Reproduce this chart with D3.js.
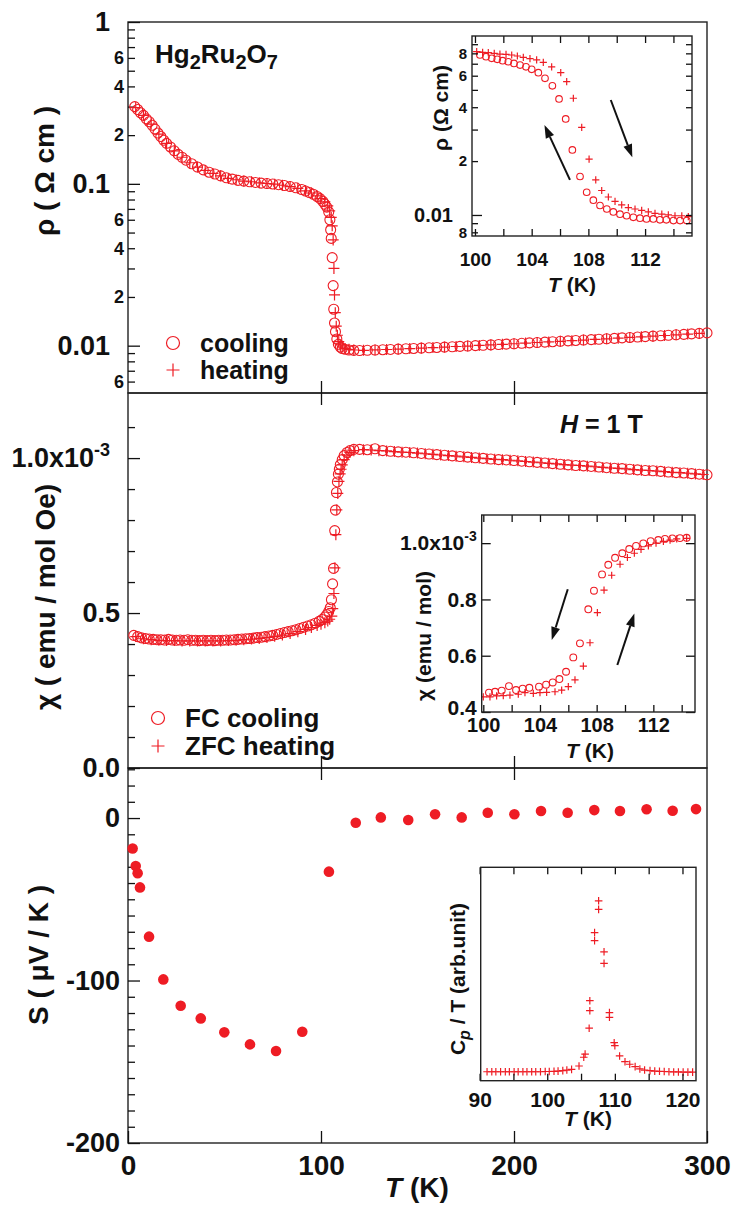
<!DOCTYPE html>
<html>
<head>
<meta charset="utf-8">
<script src="https://cdn.jsdelivr.net/npm/d3@7"></script>
<style>
  body { margin: 0; background: #fff; }
  text { font-family: "Liberation Sans", Arial, Helvetica, sans-serif; font-weight: bold; fill: #111; }
</style>
</head>
<body>
<svg id="chart" width="734" height="1207"></svg>
<script>
// ---- data ----
// top panel: resistivity (Ohm cm) vs T (K)
const rhoCoolT = [3.5, 5, 6.5, 8, 9.5, 11, 12.5, 14, 15.5, 17, 18.5, 20, 22, 24, 26, 28, 30, 33, 36, 39, 42, 45, 48, 51, 54, 57, 60, 63, 66, 69, 72, 75, 78, 81, 84, 87, 90, 92, 94, 96, 98, 99.5, 101, 102, 103, 104, 104.6, 105, 105.3, 105.8, 106.3, 106.6, 107, 107.5, 108.2, 109, 110, 111, 112.5, 114.5, 117,
  120, 124, 128, 132, 136, 140, 144, 148, 152, 156, 160, 164, 168, 172, 176, 180, 184, 188, 192, 196, 200, 204, 208, 212, 216, 220, 224, 228, 232, 236, 240, 244, 248, 252, 256, 260, 264, 268, 272, 276, 280, 284, 288, 292, 296, 300];
const rhoCool = [0.300, 0.288, 0.275, 0.265, 0.252, 0.242, 0.230, 0.218, 0.206, 0.196, 0.186, 0.178, 0.169, 0.160, 0.152, 0.146, 0.140, 0.133, 0.127, 0.122, 0.118, 0.115, 0.112, 0.109, 0.107, 0.105, 0.104, 0.103, 0.102, 0.101, 0.1005, 0.0998, 0.0988, 0.0976, 0.0962, 0.0945, 0.0922, 0.0903, 0.0884, 0.0862, 0.0835, 0.081, 0.0778, 0.0748, 0.0718, 0.067, 0.060, 0.052, 0.046, 0.035, 0.0235, 0.0168, 0.0138, 0.0122, 0.0110, 0.0102, 0.0098, 0.0096, 0.0095, 0.0094, 0.00935,
  0.00933, 0.00936, 0.00940, 0.00944, 0.00948, 0.00952, 0.00957, 0.00961, 0.00966, 0.00970, 0.00975, 0.00980, 0.00985, 0.00990, 0.00995, 0.01000, 0.01006, 0.01011, 0.01017, 0.01022, 0.01028, 0.01034, 0.01040, 0.01046, 0.01052, 0.01058, 0.01064, 0.01070, 0.01077, 0.01083, 0.01090, 0.01096, 0.01103, 0.01110, 0.01117, 0.01124, 0.01131, 0.01138, 0.01145, 0.01152, 0.01160, 0.01167, 0.01175, 0.01183, 0.01191, 0.01199];
const rhoHeatT = [4, 8, 12, 16, 20, 24, 28, 32, 36, 40, 44, 48, 52, 56, 60, 64, 68, 72, 76, 80, 84, 88, 92, 95, 98, 100, 102, 103.5, 104.5, 105.3, 105.8, 106.3, 106.7, 107, 107.4, 107.9, 108.5, 109.2, 110, 111, 112.5, 114.5, 117,
  122, 128, 134, 140, 146, 152, 158, 164, 170, 176, 182, 188, 194, 200, 206, 212, 218, 224, 230, 236, 242, 248, 254, 260, 266, 272, 278, 284, 290, 296];
const rhoHeat = [0.296, 0.265, 0.234, 0.203, 0.178, 0.160, 0.146, 0.135, 0.127, 0.121, 0.116, 0.112, 0.108, 0.106, 0.104, 0.103, 0.1015, 0.1005, 0.0995, 0.098, 0.0962, 0.0938, 0.0905, 0.0878, 0.0842, 0.081, 0.0775, 0.073, 0.068, 0.062, 0.055, 0.045, 0.030, 0.0206, 0.016, 0.0132, 0.0116, 0.0106, 0.0101, 0.0098, 0.0096, 0.0095, 0.0094,
  0.00936, 0.00941, 0.00947, 0.00953, 0.00959, 0.00966, 0.00973, 0.00980, 0.00988, 0.00995, 0.01003, 0.01011, 0.01019, 0.01028, 0.01037, 0.01046, 0.01055, 0.01064, 0.01074, 0.01083, 0.01093, 0.01103, 0.01113, 0.01124, 0.01134, 0.01145, 0.01156, 0.01167, 0.01179, 0.01191];

// inset of top panel (100-115 K)
const rhoInCoolT = [100.35, 100.78, 101.18, 101.57, 101.95, 102.35, 102.75, 103.18, 103.6, 104.0, 104.47, 104.94, 105.46, 105.93, 106.4, 106.87, 107.41, 107.88, 108.35, 108.82, 109.3, 109.76, 110.23, 110.7, 111.17, 111.64, 112.1, 112.58, 113.05, 113.5, 114.0, 114.47, 114.94];
const rhoInCool = [0.0783, 0.0766, 0.0750, 0.0741, 0.0728, 0.0718, 0.0703, 0.0688, 0.0673, 0.0651, 0.0624, 0.0580, 0.0527, 0.0445, 0.0344, 0.0231, 0.0164, 0.0134, 0.0121, 0.0113, 0.0108, 0.0104, 0.0101, 0.0099, 0.0097, 0.0096, 0.0095, 0.0095, 0.0094, 0.0094, 0.0093, 0.0093, 0.0093];
const rhoInHeatT = [100.12, 100.54, 100.94, 101.36, 101.76, 102.19, 102.59, 102.99, 103.41, 103.88, 104.35, 104.82, 105.41, 106.05, 106.47, 106.94, 107.53, 108.05, 108.52, 108.94, 109.41, 109.88, 110.35, 110.82, 111.29, 111.76, 112.23, 112.7, 113.18, 113.64, 114.11, 114.59, 115.05];
const rhoInHeat = [0.0817, 0.0811, 0.0807, 0.0800, 0.0793, 0.0790, 0.0783, 0.0773, 0.0760, 0.0747, 0.0735, 0.0713, 0.0673, 0.0624, 0.0556, 0.0449, 0.0309, 0.0205, 0.0157, 0.0137, 0.0126, 0.0119, 0.0114, 0.0110, 0.0108, 0.0106, 0.0104, 0.0102, 0.0101, 0.0100, 0.0099, 0.0099, 0.0098];

// middle panel: susceptibility (1e-3 emu / mol Oe)
const chiFcT = [3, 5, 7, 9, 11, 13, 15, 17, 19, 21, 23, 25, 27, 29, 31, 33, 35, 37, 39, 41, 43, 45, 47, 49, 51, 53, 55, 57, 59, 61, 63, 65, 67, 69, 71, 73, 75, 77, 79, 81, 83, 85, 87, 89, 91, 93, 95, 97, 99, 100.5, 102, 103, 104, 104.8, 105.4, 106, 106.5, 107.1, 107.5, 108, 108.5, 109, 109.5, 110, 111, 112, 113.5, 115, 117,
  120, 124, 128, 132, 136, 140, 144, 148, 152, 156, 160, 164, 168, 172, 176, 180, 184, 188, 192, 196, 200, 204, 208, 212, 216, 220, 224, 228, 232, 236, 240, 244, 248, 252, 256, 260, 264, 268, 272, 276, 280, 284, 288, 292, 296, 300];
const chiFc = [0.428, 0.424, 0.420, 0.418, 0.416, 0.415, 0.414, 0.414, 0.413, 0.415, 0.413, 0.412, 0.413, 0.412, 0.414, 0.412, 0.412, 0.411, 0.412, 0.411, 0.412, 0.411, 0.412, 0.412, 0.413, 0.413, 0.414, 0.415, 0.416, 0.417, 0.418, 0.419, 0.421, 0.422, 0.424, 0.426, 0.428, 0.431, 0.434, 0.437, 0.440, 0.443, 0.446, 0.450, 0.454, 0.458, 0.462, 0.467, 0.473, 0.479, 0.487, 0.495, 0.505, 0.517, 0.543, 0.594, 0.644, 0.766, 0.832, 0.889, 0.923, 0.948, 0.964, 0.979, 0.995, 1.008, 1.018, 1.024, 1.028,
  1.028, 1.027, 1.030, 1.024, 1.022, 1.020, 1.019, 1.017, 1.015, 1.013, 1.011, 1.009, 1.007, 1.005, 1.003, 1.001, 0.999, 0.997, 0.995, 0.994, 0.992, 0.990, 0.988, 0.986, 0.984, 0.982, 0.980, 0.978, 0.976, 0.975, 0.973, 0.971, 0.969, 0.967, 0.966, 0.964, 0.962, 0.960, 0.959, 0.957, 0.955, 0.953, 0.952, 0.950, 0.948, 0.946];
const chiZfcT = [4, 8, 12, 16, 20, 24, 28, 32, 36, 40, 44, 48, 52, 56, 60, 64, 68, 72, 76, 80, 84, 88, 92, 95, 98, 100, 102, 103.5, 104.5, 105.6, 106.1, 106.7, 107.2, 107.7, 108.2, 108.7, 109.3, 109.9, 110.4, 111, 112, 113.5, 115, 117,
  122, 126, 130, 134, 138, 142, 146, 150, 154, 158, 162, 166, 170, 174, 178, 182, 186, 190, 194, 198, 202, 206, 210, 214, 218, 222, 226, 230, 234, 238, 242, 246, 250, 254, 258, 262, 266, 270, 274, 278, 282, 286, 290, 294, 298];
const chiZfc = [0.424, 0.417, 0.414, 0.412, 0.411, 0.411, 0.410, 0.410, 0.410, 0.410, 0.410, 0.410, 0.411, 0.412, 0.414, 0.416, 0.418, 0.421, 0.425, 0.429, 0.434, 0.440, 0.447, 0.453, 0.460, 0.464, 0.469, 0.474, 0.480, 0.490, 0.514, 0.563, 0.646, 0.753, 0.833, 0.886, 0.925, 0.949, 0.964, 0.978, 0.995, 1.010, 1.018, 1.024,
  1.027, 1.026, 1.024, 1.023, 1.021, 1.019, 1.018, 1.016, 1.014, 1.012, 1.010, 1.008, 1.006, 1.004, 1.002, 1.000, 0.998, 0.996, 0.995, 0.993, 0.991, 0.989, 0.987, 0.985, 0.983, 0.981, 0.979, 0.977, 0.976, 0.974, 0.972, 0.970, 0.968, 0.967, 0.965, 0.963, 0.961, 0.960, 0.958, 0.956, 0.954, 0.953, 0.951, 0.949, 0.947];

// inset of middle panel (100-115 K)
const chiInFcT = [100.40, 100.83, 101.30, 101.81, 102.31, 102.78, 103.25, 103.93, 104.43, 104.90, 105.37, 105.84, 106.35, 106.82, 107.41, 107.81, 108.38, 108.82, 109.30, 109.81, 110.30, 110.78, 111.29, 111.81, 112.35, 112.82, 113.34, 113.88, 114.35];
const chiInFc = [0.469, 0.472, 0.476, 0.492, 0.478, 0.483, 0.486, 0.490, 0.497, 0.505, 0.517, 0.543, 0.594, 0.644, 0.765, 0.831, 0.889, 0.923, 0.948, 0.964, 0.979, 0.990, 0.999, 1.007, 1.011, 1.015, 1.017, 1.018, 1.019];
const chiInZfcT = [100.0, 100.47, 100.94, 101.41, 101.88, 102.47, 102.94, 103.53, 104.0, 104.47, 105.06, 105.53, 106.0, 106.47, 107.06, 107.53, 108.05, 108.52, 109.06, 109.65, 110.17, 110.66, 111.13, 111.65, 112.19, 112.71, 113.18, 113.65, 114.35];
const chiInZfc = [0.454, 0.454, 0.457, 0.458, 0.460, 0.463, 0.469, 0.466, 0.469, 0.470, 0.472, 0.478, 0.490, 0.514, 0.563, 0.646, 0.753, 0.833, 0.886, 0.925, 0.949, 0.964, 0.978, 0.990, 1.000, 1.006, 1.011, 1.015, 1.017];

// bottom panel: thermopower (uV/K)
const seebeckT = [2.4, 4.0, 5.0, 6.2, 10.9, 18.3, 27.3, 37.7, 49.9, 63.2, 76.7, 90.3, 104.1, 118, 131, 145.2, 159.1, 172.9, 186.4, 200.2, 214, 227.8, 241.6, 254.9, 268.7, 282.2, 294.3];
const seebeck = [-18.7, -29.5, -34, -42.7, -73, -99.3, -115.5, -123.3, -131.9, -139.3, -143.4, -131.5, -33, -2.9, 0.4, -1.2, 2.3, 0.4, 3.3, 2.3, 4.3, 3.3, 4.9, 4.3, 5.4, 4.5, 5.5];

// inset of bottom panel: Cp/T (arb. unit)
const cpT = [91.1, 91.8, 92.4, 93.1, 93.8, 94.4, 95.1, 95.7, 96.4, 97.0, 97.7, 98.3, 99.0, 99.7, 100.3, 101.0, 101.6, 102.3, 102.9, 103.6, 104.7, 105.4, 105.6, 106.2, 106.3, 106.3, 107.0, 107.0, 107.6, 107.6, 108.4, 108.4, 109.2, 109.2, 109.9, 110.0, 110.7, 111.5, 112.2, 113.0, 113.7, 114.4, 115.2, 115.9, 116.6, 117.3, 118.0, 118.7, 119.4, 120.1, 120.8, 121.5];
const cpVal = [4.2, 4.2, 4.2, 4.2, 4.2, 4.2, 4.2, 4.2, 4.2, 4.2, 4.2, 4.2, 4.2, 4.3, 4.3, 4.4, 4.5, 4.7, 5.0, 5.3, 6.9, 11.0, 12.5, 24.6, 32.8, 37.5, 65.6, 69.4, 80.3, 84.3, 55.0, 60.4, 29.7, 31.9, 17.8, 16.4, 11.6, 8.9, 7.7, 6.6, 5.5, 5.0, 4.7, 4.5, 4.4, 4.3, 4.2, 4.1, 4.1, 4.0, 4.0, 4.0];

// tick values
const tTicks = [0, 100, 200, 300];
const rhoMajor = [1, 0.1, 0.01];
const rhoMinor = [0.006, 0.007, 0.008, 0.009, 0.02, 0.03, 0.04, 0.05, 0.06, 0.07, 0.08, 0.09, 0.2, 0.3, 0.4, 0.5, 0.6, 0.7, 0.8, 0.9];
const chiMajor = [0, 0.5, 1.0];
const sMajor = [-200, -100, 0];
const inTTicks = [100, 102, 104, 106, 108, 110, 112, 114];
const inRhoMinor = [0.008, 0.009, 0.02, 0.03, 0.04, 0.05, 0.06, 0.07, 0.08, 0.09];
const inChiTicks = [0.4, 0.6, 0.8, 1.0];
const cpTTicks = [90, 95, 100, 105, 110, 115, 120];

// ---- drawing ----
const RED = '#ee1c24';
const svg = d3.select('#chart');

const x = d3.scaleLinear().domain([0, 300]).range([128, 707]);
const yRho = d3.scaleLog().domain([0.0051, 1]).range([393, 22]);
const yChi = d3.scaleLinear().domain([0, 1.21]).range([768, 393]);
const yS = d3.scaleLinear().domain([-200, 30.8]).range([1143, 768]);

function circles(g, xs, ys, sx, sy, r, filled) {
  g.append('g').selectAll('circle').data(xs).join('circle')
    .attr('cx', d => sx(d))
    .attr('cy', (d, i) => sy(ys[i]))
    .attr('r', r)
    .attr('fill', filled ? RED : 'none')
    .attr('stroke', filled ? 'none' : RED)
    .attr('stroke-width', 1.1);
}

function crosses(g, xs, ys, sx, sy, s) {
  g.append('g').selectAll('path').data(xs).join('path')
    .attr('d', (d, i) => {
      const cx = sx(d), cy = sy(ys[i]);
      return `M${cx - s},${cy}h${2 * s}M${cx},${cy - s}v${2 * s}`;
    })
    .attr('stroke', RED)
    .attr('stroke-width', 1.2)
    .attr('fill', 'none');
}

function styleAxis(g, size) {
  g.select('.domain').remove();
  g.selectAll('line').attr('stroke', '#111').attr('stroke-width', 1.3);
  g.attr('font-family', null).attr('font-size', size).attr('font-weight', 'bold');
  g.selectAll('text').attr('fill', '#111');
}

// panel frames
[[22, 393], [393, 768], [768, 1143]].forEach(([t, b]) => {
  svg.append('rect').attr('x', 128).attr('y', t).attr('width', 579).attr('height', b - t)
    .attr('fill', 'none').attr('stroke', '#222').attr('stroke-width', 1.4);
});

// x ticks on the panel edges
[[393, 'bottom'], [393, 'top'], [768, 'bottom'], [768, 'top'], [1143, 'bottom']].forEach(([yy, side]) => {
  const ax = (side === 'bottom' ? d3.axisBottom(x) : d3.axisTop(x))
    .tickValues(yy === 1143 ? tTicks : [100, 200]).tickSize(-12).tickPadding(12)
    .tickFormat(yy === 1143 ? d => String(d) : () => '');
  svg.append('g').attr('transform', `translate(0,${yy})`).call(ax).call(g => styleAxis(g, 28));
});

// y axes
svg.append('g').attr('transform', 'translate(128,0)')
  .call(d3.axisLeft(yRho).tickValues(rhoMajor).tickSize(-12).tickPadding(18).tickFormat(d => String(d)))
  .call(g => styleAxis(g, 27));
svg.append('g').attr('transform', 'translate(128,0)')
  .call(d3.axisLeft(yRho).tickValues(rhoMinor).tickSize(-7).tickPadding(4)
    .tickFormat(d => {
      const m = Math.round(d / Math.pow(10, Math.floor(Math.log10(d) + 1e-9)));
      return [2, 4, 6].includes(m) ? m : '';
    }))
  .call(g => styleAxis(g, 18));

svg.append('g').attr('transform', 'translate(128,0)')
  .call(d3.axisLeft(yChi).tickValues(chiMajor).tickSize(-12).tickPadding(8).tickFormat(d => d.toFixed(1)))
  .call(g => styleAxis(g, 27))
  .call(g => g.selectAll('text').filter(d => d === 1.0)
    .attr('x', -18).text('1.0x10')
    .append('tspan').attr('dy', -11).attr('font-size', 18).text('-3'));
svg.append('g').attr('transform', 'translate(128,0)')
  .call(d3.axisLeft(yChi).tickValues(d3.range(0.1, 1.15, 0.1).filter(v => Math.abs(v - 0.5) > 0.01 && Math.abs(v - 1) > 0.01))
    .tickSize(-7).tickFormat(() => ''))
  .call(g => styleAxis(g, 18));

svg.append('g').attr('transform', 'translate(128,0)')
  .call(d3.axisLeft(yS).tickValues(sMajor).tickSize(-12).tickPadding(8).tickFormat(d => String(d)))
  .call(g => styleAxis(g, 27));
svg.append('g').attr('transform', 'translate(128,0)')
  .call(d3.axisLeft(yS).tickValues(d3.range(-190, 31, 10).filter(v => v % 100 !== 0)).tickSize(-7).tickFormat(() => ''))
  .call(g => styleAxis(g, 18));

// axis titles
function yTitle(cx, cy, size, build) {
  const t = svg.append('text').attr('transform', `translate(${cx},${cy}) rotate(-90)`)
    .attr('text-anchor', 'middle').attr('font-size', size);
  build(t);
}
yTitle(54, 171, 28, t => t.text('ρ ( Ω cm )'));
yTitle(55, 597, 28, t => t.text('χ ( emu / mol Oe)'));
yTitle(48, 955, 28, t => t.text('S ( μV / K )'));

const tLabel = svg.append('text').attr('x', 417).attr('y', 1197).attr('text-anchor', 'middle').attr('font-size', 28);
tLabel.append('tspan').attr('font-style', 'italic').text('T');
tLabel.append('tspan').text(' (K)');

// main data
const gTop = svg.append('g');
circles(gTop, rhoCoolT, rhoCool, x, yRho, 5);
crosses(gTop, rhoHeatT, rhoHeat, x, yRho, 5.5);
const gMid = svg.append('g');
circles(gMid, chiFcT, chiFc, x, yChi, 5);
crosses(gMid, chiZfcT, chiZfc, x, yChi, 5.5);
const gBot = svg.append('g');
circles(gBot, seebeckT, seebeck, x, yS, 5.3, true);

// compound name
const name = svg.append('text').attr('x', 155).attr('y', 63).attr('font-size', 26);
name.append('tspan').text('Hg');
name.append('tspan').attr('dy', 6).attr('font-size', 20).text('2');
name.append('tspan').attr('dy', -6).text('Ru');
name.append('tspan').attr('dy', 6).attr('font-size', 20).text('2');
name.append('tspan').attr('dy', -6).text('O');
name.append('tspan').attr('dy', 6).attr('font-size', 20).text('7');

// field label
const hLab = svg.append('text').attr('x', 560).attr('y', 433).attr('font-size', 25);
hLab.append('tspan').attr('font-style', 'italic').text('H');
hLab.append('tspan').text(' = 1 T');

// legends
function legendRow(cx, cy, kind, label, size) {
  if (kind === 'circle') {
    svg.append('circle').attr('cx', cx).attr('cy', cy).attr('r', 6.5)
      .attr('fill', 'none').attr('stroke', RED).attr('stroke-width', 1.2);
  } else {
    svg.append('path').attr('d', `M${cx - 6.5},${cy}h13M${cx},${cy - 6.5}v13`)
      .attr('stroke', RED).attr('stroke-width', 1.2);
  }
  svg.append('text').attr('x', cx + 27).attr('y', cy + 9).attr('font-size', size).text(label);
}
legendRow(173, 343, 'circle', 'cooling', 25);
legendRow(173, 370, 'cross', 'heating', 25);
legendRow(158, 718, 'circle', 'FC cooling', 26);
legendRow(158, 746, 'cross', 'ZFC heating', 26);

// ---- insets ----
function arrow(g, x1, y1, x2, y2) {
  const ang = Math.atan2(y2 - y1, x2 - x1);
  const hl = 13, hw = 4.5;
  const bx = x2 - hl * Math.cos(ang), by = y2 - hl * Math.sin(ang);
  g.append('line').attr('x1', x1).attr('y1', y1).attr('x2', bx).attr('y2', by)
    .attr('stroke', '#111').attr('stroke-width', 2);
  g.append('path')
    .attr('d', `M${x2},${y2}L${bx - hw * Math.sin(ang)},${by + hw * Math.cos(ang)}L${bx + hw * Math.sin(ang)},${by - hw * Math.cos(ang)}Z`)
    .attr('fill', '#111');
}

function insetFrame(l, t, r, b, clipId) {
  const g = svg.append('g');
  g.append('rect').attr('x', l).attr('y', t).attr('width', r - l).attr('height', b - t).attr('fill', '#fff');
  svg.append('clipPath').attr('id', clipId).append('rect')
    .attr('x', l).attr('y', t).attr('width', r - l).attr('height', b - t);
  return g;
}

// inset 1: rho vs T
{
  const l = 472, t = 36, r = 692, b = 236;
  const xi = d3.scaleLinear().domain([99.79, 115.31]).range([l, r]);
  const yi = d3.scaleLog().domain([0.00763, 0.1]).range([b, t]);
  const g = insetFrame(l, t, r, b, 'clip1');
  const d = g.append('g').attr('clip-path', 'url(#clip1)');
  circles(d, rhoInCoolT, rhoInCool, xi, yi, 3.3);
  crosses(d, rhoInHeatT, rhoInHeat, xi, yi, 3.6);
  arrow(g, xi(106.7), yi(0.0157), xi(104.9), yi(0.0318));
  arrow(g, xi(109.58), yi(0.0439), xi(111.1), yi(0.0210));
  g.append('g').attr('transform', `translate(0,${b})`)
    .call(d3.axisBottom(xi).tickValues(inTTicks).tickSize(-7).tickPadding(17).tickFormat(v => v % 4 === 0 ? v : ''))
    .call(a => styleAxis(a, 19));
  g.append('g').attr('transform', `translate(0,${t})`)
    .call(d3.axisTop(xi).tickValues(inTTicks).tickSize(-7).tickFormat(() => ''))
    .call(a => styleAxis(a, 19));
  g.append('g').attr('transform', `translate(${l},0)`)
    .call(d3.axisLeft(yi).tickValues(inRhoMinor).tickSize(-6).tickPadding(5)
      .tickFormat(v => {
        const m = Math.round(v / Math.pow(10, Math.floor(Math.log10(v) + 1e-9)));
        return [2, 4, 6, 8].includes(m) ? m : '';
      }))
    .call(a => styleAxis(a, 15));
  g.append('g').attr('transform', `translate(${l},0)`)
    .call(d3.axisLeft(yi).tickValues([0.01]).tickSize(-10).tickPadding(19).tickFormat(() => '0.01'))
    .call(a => styleAxis(a, 20));
  g.append('g').attr('transform', `translate(${r},0)`)
    .call(d3.axisRight(yi).tickValues(inRhoMinor.concat([0.01])).tickSize(-6).tickFormat(() => ''))
    .call(a => styleAxis(a, 15));
  g.append('rect').attr('x', l).attr('y', t).attr('width', r - l).attr('height', b - t)
    .attr('fill', 'none').attr('stroke', '#222').attr('stroke-width', 1.4);
  yTitle(448, 108, 21, tt => tt.text('ρ (Ω cm)'));
  const xl = svg.append('text').attr('x', 572).attr('y', 292).attr('text-anchor', 'middle').attr('font-size', 21);
  xl.append('tspan').attr('font-style', 'italic').text('T');
  xl.append('tspan').text(' (K)');
}

// inset 2: chi vs T
{
  const l = 481.7, t = 515, r = 695, b = 712;
  const xi = d3.scaleLinear().domain([99.887, 114.94]).range([l, r]);
  const yi = d3.scaleLinear().domain([0.4, 1.1]).range([b, t]);
  const g = insetFrame(l, t, r, b, 'clip2');
  const d = g.append('g').attr('clip-path', 'url(#clip2)');
  circles(d, chiInFcT, chiInFc, xi, yi, 3.4);
  crosses(d, chiInZfcT, chiInZfc, xi, yi, 3.6);
  arrow(g, xi(105.96), yi(0.836), xi(104.83), yi(0.656));
  arrow(g, xi(109.46), yi(0.567), xi(110.66), yi(0.750));
  g.append('g').attr('transform', `translate(0,${b})`)
    .call(d3.axisBottom(xi).tickValues(inTTicks).tickSize(-7).tickPadding(6).tickFormat(v => v % 4 === 0 ? v : ''))
    .call(a => styleAxis(a, 20));
  g.append('g').attr('transform', `translate(0,${t})`)
    .call(d3.axisTop(xi).tickValues(inTTicks).tickSize(-7).tickFormat(() => ''))
    .call(a => styleAxis(a, 20));
  g.append('g').attr('transform', `translate(${l},0)`)
    .call(d3.axisLeft(yi).tickValues(inChiTicks).tickSize(-9).tickPadding(5).tickFormat(v => v.toFixed(1)))
    .call(a => styleAxis(a, 21))
    .call(a => a.selectAll('text').filter(v => v === 0.4).attr('dy', '0.1em'))
    .call(a => a.selectAll('text').filter(v => v === 1.0).text('1.0x10')
      .append('tspan').attr('dy', -9).attr('font-size', 14).text('-3'));
  g.append('g').attr('transform', `translate(${r},0)`)
    .call(d3.axisRight(yi).tickValues(inChiTicks).tickSize(-9).tickFormat(() => ''))
    .call(a => styleAxis(a, 20));
  g.append('rect').attr('x', l).attr('y', t).attr('width', r - l).attr('height', b - t)
    .attr('fill', 'none').attr('stroke', '#222').attr('stroke-width', 1.4);
  yTitle(431, 636, 21, tt => tt.text('χ (emu / mol)'));
  const xl = svg.append('text').attr('x', 590).attr('y', 758).attr('text-anchor', 'middle').attr('font-size', 21);
  xl.append('tspan').attr('font-style', 'italic').text('T');
  xl.append('tspan').text(' (K)');
}

// inset 3: Cp/T vs T
{
  const l = 480.7, t = 867.3, r = 696, b = 1080.7;
  const xi = d3.scaleLinear().domain([90.16, 122]).range([l, r]);
  const yi = d3.scaleLinear().domain([0, 100]).range([b, t]);
  const g = insetFrame(l, t, r, b, 'clip3');
  const d = g.append('g').attr('clip-path', 'url(#clip3)');
  crosses(d, cpT, cpVal, xi, yi, 3.8);
  g.append('g').attr('transform', `translate(0,${b})`)
    .call(d3.axisBottom(xi).tickValues(cpTTicks).tickSize(-7).tickPadding(11).tickFormat(v => v % 10 === 0 ? v : ''))
    .call(a => styleAxis(a, 21));
  g.append('g').attr('transform', `translate(0,${t})`)
    .call(d3.axisTop(xi).tickValues(cpTTicks).tickSize(-7).tickFormat(() => ''))
    .call(a => styleAxis(a, 21));
  g.append('rect').attr('x', l).attr('y', t).attr('width', r - l).attr('height', b - t)
    .attr('fill', 'none').attr('stroke', '#222').attr('stroke-width', 1.4);
  yTitle(465, 979, 21, tt => {
    tt.append('tspan').text('C');
    tt.append('tspan').attr('font-style', 'italic').attr('font-size', 16).attr('dy', 5).text('p');
    tt.append('tspan').attr('dy', -5).text(' / T (arb.unit)');
  });
  const xl = svg.append('text').attr('x', 588).attr('y', 1126).attr('text-anchor', 'middle').attr('font-size', 21);
  xl.append('tspan').attr('font-style', 'italic').text('T');
  xl.append('tspan').text(' (K)');
}
</script>
</body>
</html>
